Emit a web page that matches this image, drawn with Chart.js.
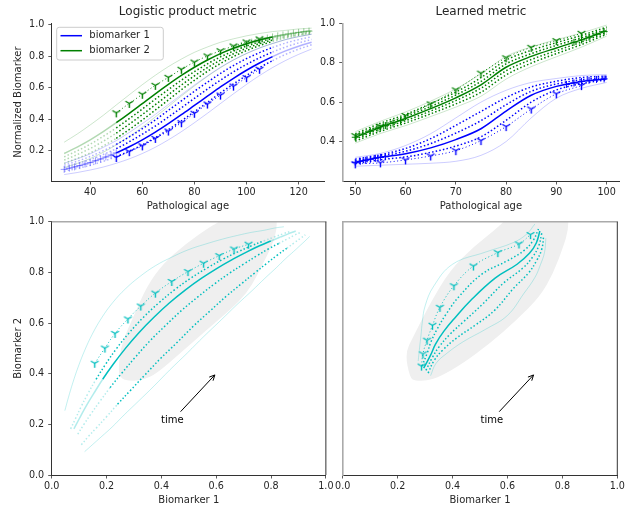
<!DOCTYPE html>
<html><head><meta charset="utf-8">
<script src="https://cdn.jsdelivr.net/npm/chart.js@4/dist/chart.umd.min.js"></script>
<style>
html,body{margin:0;padding:0;background:#fff;width:641px;height:510px;overflow:hidden;position:relative}
canvas{position:absolute}
</style>
</head><body>
<canvas id="tl" width="330" height="215" style="left:0;top:0"></canvas>
<canvas id="tr" width="341" height="215" style="left:300px;top:0"></canvas>
<canvas id="bl" width="336" height="300" style="left:0;top:210px"></canvas>
<canvas id="br" width="311" height="300" style="left:330px;top:210px"></canvas>
<script>
// ---------------- DATA ----------------
// Top-left panel: logistic product metric (pathological age vs normalized biomarker)
const tlAge   = [30,35,40,45,50,55,60,65,70,75,80,85,90,95,100,105,110,115,120,125];
const tlObsRange = [50, 110];
const tlB1Mean = [0.081,0.101,0.124,0.153,0.186,0.225,0.269,0.318,0.372,0.429,0.488,0.547,0.606,0.661,0.712,0.758,0.799,0.835,0.865,0.890];
const tlB1Up2  = [0.108,0.133,0.163,0.200,0.240,0.288,0.340,0.396,0.457,0.517,0.578,0.636,0.692,0.742,0.786,0.824,0.857,0.885,0.907,0.925];
const tlB1Up1  = [0.095,0.117,0.143,0.176,0.213,0.257,0.305,0.357,0.414,0.473,0.533,0.592,0.649,0.702,0.749,0.791,0.828,0.860,0.886,0.908];
const tlB1Lo1  = [0.069,0.087,0.107,0.132,0.162,0.197,0.237,0.283,0.334,0.390,0.448,0.507,0.568,0.625,0.679,0.729,0.773,0.813,0.846,0.874];
const tlB1Hi   = [0.120,0.148,0.180,0.221,0.264,0.316,0.372,0.431,0.494,0.556,0.618,0.676,0.731,0.778,0.819,0.853,0.882,0.907,0.926,0.941];
const tlB1Lo   = [0.048,0.061,0.077,0.096,0.120,0.148,0.182,0.222,0.269,0.321,0.378,0.438,0.500,0.562,0.622,0.678,0.729,0.774,0.813,0.847];
const tlB2Mean = [0.182,0.223,0.269,0.321,0.378,0.438,0.500,0.562,0.622,0.679,0.731,0.777,0.818,0.852,0.881,0.905,0.924,0.940,0.953,0.963];
const tlB2Lo1  = [0.161,0.199,0.241,0.291,0.345,0.404,0.465,0.528,0.589,0.649,0.703,0.753,0.797,0.834,0.866,0.893,0.914,0.932,0.947,0.958];
const tlB2Lo2  = [0.140,0.175,0.214,0.260,0.312,0.369,0.430,0.493,0.556,0.618,0.676,0.729,0.776,0.817,0.852,0.881,0.904,0.925,0.940,0.953];
const tlB2Lo3  = [0.119,0.151,0.186,0.230,0.279,0.335,0.395,0.459,0.523,0.588,0.648,0.705,0.755,0.799,0.837,0.869,0.895,0.917,0.934,0.948];
const tlB2Hi   = [0.254,0.306,0.364,0.425,0.491,0.556,0.620,0.680,0.735,0.783,0.826,0.860,0.890,0.912,0.931,0.946,0.958,0.966,0.975,0.980];
const tlB2Lo   = [0.092,0.119,0.150,0.190,0.237,0.291,0.350,0.415,0.481,0.548,0.612,0.673,0.728,0.777,0.818,0.854,0.882,0.907,0.926,0.942];
const tlMkAge  = [50,55,60,65,70,75,80,85,90,95,100,105];
const tlB1Mk   = [0.157,0.194,0.231,0.278,0.325,0.378,0.438,0.497,0.554,0.611,0.665,0.718];
const tlB2Mk   = [0.441,0.501,0.559,0.616,0.667,0.718,0.764,0.803,0.836,0.866,0.892,0.911];
const tlB1PlusAge = [30,32,34,36,38,40,42,44,46,48,50];
const tlB1Plus    = [0.081,0.089,0.097,0.105,0.115,0.124,0.136,0.147,0.160,0.173,0.186];
const tlB2PlusAge = [96,98,100,102,104,106,108,110,112,114,116,118,120,122,124];
const tlB2Plus    = [0.858,0.870,0.881,0.891,0.900,0.909,0.917,0.924,0.931,0.937,0.943,0.948,0.953,0.957,0.961];

// Top-right panel: learned metric
const trAge    = [50,55,60,65,70,75,80,85,90,95,100];
const trB1Mean = [0.295,0.320,0.338,0.368,0.410,0.465,0.555,0.635,0.680,0.705,0.718];
const trB1Hi2  = [0.311,0.333,0.365,0.415,0.482,0.553,0.623,0.677,0.706,0.725,0.732];
const trB1Hi1  = [0.303,0.326,0.351,0.390,0.443,0.506,0.587,0.655,0.692,0.714,0.725];
const trB1Lo1  = [0.289,0.308,0.322,0.345,0.377,0.424,0.508,0.600,0.662,0.694,0.713];
const trB1Hi   = [0.320,0.340,0.380,0.440,0.520,0.600,0.660,0.700,0.720,0.735,0.740];
const trB1Lo   = [0.275,0.280,0.285,0.290,0.300,0.330,0.400,0.520,0.620,0.670,0.700];
const trB2Mean = [0.422,0.473,0.517,0.567,0.622,0.688,0.777,0.832,0.875,0.916,0.963];
const trB2Hi2  = [0.440,0.493,0.538,0.592,0.651,0.724,0.813,0.863,0.902,0.939,0.981];
const trB2Hi1  = [0.430,0.482,0.527,0.578,0.636,0.705,0.794,0.846,0.888,0.927,0.971];
const trB2Lo1  = [0.413,0.463,0.506,0.555,0.608,0.671,0.759,0.816,0.861,0.905,0.955];
const trB2Lo2  = [0.402,0.452,0.494,0.541,0.591,0.650,0.738,0.798,0.846,0.892,0.945];
const trB2Hi   = [0.450,0.503,0.550,0.605,0.667,0.743,0.832,0.880,0.917,0.951,0.991];
const trB2Lo   = [0.392,0.441,0.481,0.527,0.575,0.630,0.717,0.780,0.830,0.879,0.935];
const trMkAge  = [50,55,60,65,70,75,80,85,90,95];
const trB1Mk   = [0.287,0.292,0.307,0.327,0.354,0.405,0.476,0.565,0.642,0.684];
const trB2Mk   = [0.430,0.478,0.532,0.591,0.662,0.747,0.825,0.878,0.912,0.949];
const trB1PlusAge = [50,51,52,53,54,55,56,92,93.5,95,96.5,98,99.5];
const trB1Plus    = [0.295,0.300,0.305,0.310,0.315,0.320,0.323,0.690,0.697,0.705,0.711,0.715,0.718];
const trB2PlusAge = [50,51.5,53,54.5,56,57.5,59,93.5,95,96.5,98,99.5];
const trB2Plus    = [0.422,0.438,0.453,0.468,0.481,0.494,0.506,0.904,0.916,0.930,0.945,0.958];

// Bottom panels: population density (grey region) in biomarker space
const blBlobX = [0.249,0.243,0.255,0.298,0.346,0.407,0.492,0.577,0.614,0.650,0.820,0.822,0.802,0.771,0.747,0.711,0.650,0.565,0.468,0.383,0.334,0.285];
const blBlobY = [0.382,0.428,0.520,0.625,0.743,0.836,0.915,0.980,1.000,1.050,1.050,0.967,0.901,0.836,0.783,0.717,0.651,0.572,0.480,0.401,0.375,0.371];
const brBlobX = [0.245,0.227,0.257,0.318,0.391,0.476,0.585,0.620,0.822,0.822,0.803,0.767,0.718,0.634,0.536,0.439,0.354,0.306,0.264];
const brBlobY = [0.382,0.480,0.546,0.678,0.809,0.901,0.994,1.050,1.050,0.967,0.901,0.796,0.704,0.612,0.520,0.441,0.388,0.372,0.372];

// Annotations ("time" arrows), in data coordinates
const blArrowHead = [0.595,0.395], blArrowTail = [0.47,0.25], blArrowText = [0.44,0.214];
const brArrowHead = [0.695,0.395], brArrowTail = [0.57,0.25], brArrowText = [0.543,0.214];
const arrowLabel = 'time';

// Ticks and texts
const tlXTicks = [40,60,80,100,120];
const tlYTicks = [0.2,0.4,0.6,0.8,1.0];
const trXTicks = [50,60,70,80,90,100];
const trYTicks = [0.4,0.6,0.8,1.0];
const botTicks = [0,0.2,0.4,0.6,0.8,1.0];
const panelTitles = ['Logistic product metric','Learned metric'];
const legendLabels = ['biomarker 1','biomarker 2'];
const axisTitles = {age:'Pathological age', norm:'Normalized Biomarker', b1:'Biomarker 1', b2:'Biomarker 2'};

// ---------------- STYLE / HELPERS ----------------
const FONT = 'DejaVu Sans';
const TXT = '#262626';
const BLUE = '#0000ff', GREEN = '#008000', CYAN = '#00bfbf';
function rgba(hex, a){const r=parseInt(hex.slice(1,3),16),g=parseInt(hex.slice(3,5),16),b=parseInt(hex.slice(5,7),16);return `rgba(${r},${g},${b},${a})`;}
function triMarker(color){
  const c=document.createElement('canvas');c.width=c.height=11;
  const g=c.getContext('2d');g.strokeStyle=color;g.lineWidth=1.4;
  const cx=5.5,cy=5.5,r=4.5;
  g.beginPath();
  g.moveTo(cx,cy);g.lineTo(cx,cy+r);
  g.moveTo(cx,cy);g.lineTo(cx-r*0.866,cy-r*0.5);
  g.moveTo(cx,cy);g.lineTo(cx+r*0.866,cy-r*0.5);
  g.stroke();return c;
}
const triB=triMarker(BLUE), triG=triMarker(GREEN), triC=triMarker(CYAN);
const pts=(xs,ys)=>xs.map((x,i)=>({x,y:ys[i]}));
function curve(xs,ys,o){return Object.assign({data:pts(xs,ys),pointRadius:0,borderWidth:1.5,fill:false,cubicInterpolationMode:'monotone'},o);}
function pcurve(xs,ys,o){return Object.assign({data:pts(xs,ys),pointRadius:0,borderWidth:1.5,fill:false,tension:0.4},o);}
const DOT=[1.5,2.2];
const segAge=(dark,lt)=>({borderColor:c=>(c.p0.parsed.x>=tlObsRange[0]-1e-9&&c.p1.parsed.x<=tlObsRange[1]+1e-9)?dark:lt});
const i0=tlAge.indexOf(tlObsRange[0]), i1=tlAge.indexOf(tlObsRange[1]);
const segIdx=(dark,lt)=>({borderColor:c=>(c.p0DataIndex>=i0&&c.p1DataIndex<=i1)?dark:lt});

function axes(o){
  const tickFont={family:FONT,size:9.6};
  const grid={display:true,drawOnChartArea:false,drawTicks:true,tickLength:3.5,tickWidth:0.8,tickColor:'#333'};
  return {
    x:{type:'linear',min:o.xmin,max:o.xmax,
      afterBuildTicks:s=>{s.ticks=o.xt.map(v=>({value:v}));},
      afterFit:s=>{s.height=o.xh;},
      ticks:{color:TXT,font:tickFont,padding:2.5,maxRotation:0,autoSkip:false,callback:o.xfmt},
      grid:grid,border:{display:true,color:'#333',width:1},
      title:{display:true,text:o.xTitle,color:TXT,font:{family:FONT,size:10},padding:{top:0,bottom:o.xpb}}},
    y:{type:'linear',min:o.ymin,max:o.ymax,
      afterBuildTicks:s=>{s.ticks=o.yt.map(v=>({value:v}));},
      afterFit:s=>{s.width=o.yw;},
      ticks:{display:o.yShow!==false,color:TXT,font:tickFont,padding:4,autoSkip:false,callback:v=>v.toFixed(1)},
      grid:Object.assign({},grid,{drawTicks:o.yShow!==false}),
      border:{display:true,color:o.yBorder||'#333',width:o.yBorder?1.6:1},
      title:{display:!!o.yTitle,text:o.yTitle||'',color:TXT,font:{family:FONT,size:10},padding:{top:12.3,bottom:0}}}
  };
}

const decor={
  id:'decor',
  beforeDatasetsDraw(chart,args,opts){
    if(!opts.blobX)return;
    const {ctx,chartArea:a,scales:{x,y}}=chart;
    const P=opts.blobX.map((v,i)=>[x.getPixelForValue(v),y.getPixelForValue(opts.blobY[i])]);
    const n=P.length,mid=(p,q)=>[(p[0]+q[0])/2,(p[1]+q[1])/2];
    ctx.save();ctx.beginPath();ctx.rect(a.left,a.top,a.right-a.left,a.bottom-a.top);ctx.clip();
    ctx.beginPath();const m0=mid(P[n-1],P[0]);ctx.moveTo(m0[0],m0[1]);
    for(let i=0;i<n;i++){const p=P[i],q=P[(i+1)%n],m=mid(p,q);ctx.quadraticCurveTo(p[0],p[1],m[0],m[1]);}
    ctx.closePath();ctx.fillStyle='#efefef';ctx.fill();ctx.restore();
  },
  afterDraw(chart,args,opts){
    const {ctx,chartArea:a,scales:{x,y}}=chart;
    ctx.save();
    if(opts.title){
      ctx.font=`12px ${FONT}`;ctx.fillStyle=TXT;ctx.textAlign='center';ctx.textBaseline='middle';
      ctx.fillText(opts.title,(a.left+a.right)/2,12.3);
    }
    if(opts.box){
      ctx.lineWidth=1.6;ctx.strokeStyle='#aaaaaa';
      ctx.beginPath();ctx.moveTo(a.left,a.top);ctx.lineTo(a.right+0.5,a.top);ctx.stroke();
      ctx.lineWidth=1;ctx.strokeStyle='#333';
      ctx.beginPath();ctx.moveTo(a.right,a.top);ctx.lineTo(a.right,a.bottom);ctx.stroke();
    }
    if(opts.legend){
      const bx=56.7,by=27.3,bw=106.6,bh=32.7,r=2.5;
      ctx.beginPath();ctx.moveTo(bx+r,by);ctx.lineTo(bx+bw-r,by);ctx.quadraticCurveTo(bx+bw,by,bx+bw,by+r);
      ctx.lineTo(bx+bw,by+bh-r);ctx.quadraticCurveTo(bx+bw,by+bh,bx+bw-r,by+bh);ctx.lineTo(bx+r,by+bh);
      ctx.quadraticCurveTo(bx,by+bh,bx,by+bh-r);ctx.lineTo(bx,by+r);ctx.quadraticCurveTo(bx,by,bx+r,by);ctx.closePath();
      ctx.fillStyle='rgba(255,255,255,0.85)';ctx.fill();ctx.strokeStyle='#cccccc';ctx.lineWidth=1;ctx.stroke();
      opts.legend.forEach((e,i)=>{
        const yy=35.7+i*15;
        ctx.strokeStyle=e.color;ctx.lineWidth=1.5;ctx.beginPath();ctx.moveTo(60.5,yy);ctx.lineTo(82,yy);ctx.stroke();
        ctx.fillStyle=TXT;ctx.font=`10px ${FONT}`;ctx.textAlign='left';ctx.textBaseline='middle';ctx.fillText(e.label,89.3,yy);
      });
    }
    if(opts.arrow){
      const A=opts.arrow;
      const hx=x.getPixelForValue(A.head[0]),hy=y.getPixelForValue(A.head[1]);
      const tx=x.getPixelForValue(A.tail[0]),ty=y.getPixelForValue(A.tail[1]);
      ctx.strokeStyle='#000';ctx.lineWidth=1;
      ctx.beginPath();ctx.moveTo(tx,ty);ctx.lineTo(hx,hy);ctx.stroke();
      const ang=Math.atan2(hy-ty,hx-tx),L=6,W=0.45;
      ctx.beginPath();ctx.moveTo(hx-L*Math.cos(ang-W),hy-L*Math.sin(ang-W));ctx.lineTo(hx,hy);
      ctx.lineTo(hx-L*Math.cos(ang+W),hy-L*Math.sin(ang+W));ctx.stroke();
      ctx.fillStyle='#000';ctx.font=`10px ${FONT}`;ctx.textAlign='center';ctx.textBaseline='middle';
      ctx.fillText(A.label,x.getPixelForValue(A.text[0]),y.getPixelForValue(A.text[1]));
    }
    ctx.restore();
  }
};

Chart.defaults.font.family=FONT;
const base={responsive:false,animation:false,devicePixelRatio:1,events:[],
  plugins:{legend:{display:false},tooltip:{enabled:false}}};
function make(id,datasets,scales,padding,decorOpts){
  return new Chart(document.getElementById(id),{type:'line',data:{datasets},
    options:Object.assign({},base,{layout:{padding},scales,plugins:Object.assign({},base.plugins,{decor:decorOpts})}),
    plugins:[decor]});
}

// ---------------- TOP-LEFT ----------------
const lB=rgba(BLUE,0.3), lG=rgba(GREEN,0.3), fB=rgba(BLUE,0.25), fG=rgba(GREEN,0.25);
make('tl',[
  curve(tlMkAge,tlB1Mk,{borderColor:BLUE,borderWidth:1,borderDash:[1,2.5],pointStyle:triB,pointRadius:5}),
  curve(tlMkAge,tlB2Mk,{borderColor:GREEN,borderWidth:1,borderDash:[1,2.5],pointStyle:triG,pointRadius:5}),
  curve(tlB1PlusAge,tlB1Plus,{showLine:false,pointStyle:'cross',pointRadius:3.5,pointBorderColor:rgba(BLUE,0.4),pointBorderWidth:1}),
  curve(tlB2PlusAge,tlB2Plus,{showLine:false,pointStyle:'cross',pointRadius:3.5,pointBorderColor:rgba(GREEN,0.4),pointBorderWidth:1}),
  curve(tlAge,tlB1Mean,{borderColor:BLUE,segment:segAge(BLUE,lB)}),
  curve(tlAge,tlB2Mean,{borderColor:GREEN,segment:segAge(GREEN,lG)}),
  curve(tlAge,tlB1Up2,{borderColor:BLUE,borderDash:DOT,segment:segAge(BLUE,lB)}),
  curve(tlAge,tlB1Up1,{borderColor:BLUE,borderDash:DOT,segment:segAge(BLUE,lB)}),
  curve(tlAge,tlB1Lo1,{borderColor:BLUE,borderDash:DOT,segment:segAge(BLUE,lB)}),
  curve(tlAge,tlB2Lo1,{borderColor:GREEN,borderDash:DOT,segment:segAge(GREEN,lG)}),
  curve(tlAge,tlB2Lo2,{borderColor:GREEN,borderDash:DOT,segment:segAge(GREEN,lG)}),
  curve(tlAge,tlB2Lo3,{borderColor:GREEN,borderDash:DOT,segment:segAge(GREEN,lG)}),
  curve(tlAge,tlB1Hi,{borderColor:fB,borderWidth:0.8}),
  curve(tlAge,tlB1Lo,{borderColor:fB,borderWidth:0.8}),
  curve(tlAge,tlB2Hi,{borderColor:fG,borderWidth:0.8}),
  curve(tlAge,tlB2Lo,{borderColor:fG,borderWidth:0.8})
], axes({xmin:25.25,xmax:129.75,ymin:0.0071,ymax:1.0108,xt:tlXTicks,yt:tlYTicks,xh:34,yw:51.8,xpb:2.7,
  xfmt:v=>String(v),xTitle:axisTitles.age,yTitle:axisTitles.norm}),
  {left:0,top:23.3,right:2.6,bottom:0},
  {title:panelTitles[0],legend:[{label:legendLabels[0],color:BLUE},{label:legendLabels[1],color:GREEN}]});

// ---------------- TOP-RIGHT ----------------
make('tr',[
  curve(trMkAge,trB1Mk,{borderColor:BLUE,borderWidth:1,borderDash:[1,2.5],pointStyle:triB,pointRadius:5}),
  curve(trMkAge,trB2Mk,{borderColor:GREEN,borderWidth:1,borderDash:[1,2.5],pointStyle:triG,pointRadius:5}),
  curve(trB1PlusAge,trB1Plus,{showLine:false,pointStyle:'cross',pointRadius:3.5,pointBorderColor:BLUE,pointBorderWidth:1}),
  curve(trB2PlusAge,trB2Plus,{showLine:false,pointStyle:'cross',pointRadius:3.5,pointBorderColor:GREEN,pointBorderWidth:1}),
  curve(trAge,trB1Mean,{borderColor:BLUE}),
  curve(trAge,trB2Mean,{borderColor:GREEN}),
  curve(trAge,trB1Hi2,{borderColor:BLUE,borderDash:DOT}),
  curve(trAge,trB1Hi1,{borderColor:BLUE,borderDash:DOT}),
  curve(trAge,trB1Lo1,{borderColor:BLUE,borderDash:DOT}),
  curve(trAge,trB2Hi2,{borderColor:GREEN,borderDash:DOT}),
  curve(trAge,trB2Hi1,{borderColor:GREEN,borderDash:DOT}),
  curve(trAge,trB2Lo1,{borderColor:GREEN,borderDash:DOT}),
  curve(trAge,trB2Lo2,{borderColor:GREEN,borderDash:DOT}),
  curve(trAge,trB1Hi,{borderColor:fB,borderWidth:0.8}),
  curve(trAge,trB1Lo,{borderColor:fB,borderWidth:0.8}),
  curve(trAge,trB2Hi,{borderColor:fG,borderWidth:0.8}),
  curve(trAge,trB2Lo,{borderColor:fG,borderWidth:0.8})
], axes({xmin:47.5,xmax:102.5,ymin:0.2,ymax:1.0,xt:trXTicks,yt:trYTicks,xh:34,yw:42.7,xpb:2.7,
  xfmt:v=>String(v),xTitle:axisTitles.age,yBorder:'#aaaaaa'}),
  {left:0,top:23.3,right:21.8,bottom:0},
  {title:panelTitles[1]});

// ---------------- BOTTOM-LEFT ----------------
const lC=rgba(CYAN,0.3), fC=rgba(CYAN,0.3);
make('bl',[
  pcurve(tlB1Mk,tlB2Mk,{borderColor:CYAN,borderWidth:1,borderDash:[1,2.5],pointStyle:triC,pointRadius:5}),
  pcurve(tlB1Mean,tlB2Mean,{borderColor:CYAN,segment:segIdx(CYAN,lC)}),
  pcurve(tlB1Lo1,tlB2Mean,{borderColor:CYAN,borderDash:DOT,segment:segIdx(CYAN,lC)}),
  pcurve(tlB1Up1,tlB2Lo1,{borderColor:CYAN,borderDash:DOT,segment:segIdx(CYAN,lC)}),
  pcurve(tlB1Up2,tlB2Lo3,{borderColor:CYAN,borderDash:DOT,segment:segIdx(CYAN,lC)}),
  pcurve(tlB1Lo,tlB2Hi,{borderColor:fC,borderWidth:0.8}),
  pcurve(tlB1Hi,tlB2Lo,{borderColor:fC,borderWidth:0.8})
], axes({xmin:0,xmax:1,ymin:0,ymax:1,xt:botTicks,yt:botTicks,xh:35,yw:51.7,xpb:3.7,
  xfmt:v=>v.toFixed(1),xTitle:axisTitles.b1,yTitle:axisTitles.b2}),
  {left:0,top:11.7,right:10,bottom:0},
  {box:true,blobX:blBlobX,blobY:blBlobY,arrow:{head:blArrowHead,tail:blArrowTail,text:blArrowText,label:arrowLabel}});

// ---------------- BOTTOM-RIGHT ----------------
make('br',[
  pcurve(trB1Mk,trB2Mk,{borderColor:CYAN,borderWidth:1,borderDash:[1,2.5],pointStyle:triC,pointRadius:5}),
  pcurve(trB1Mean,trB2Mean,{borderColor:CYAN}),
  pcurve(trB1Lo1,trB2Hi1,{borderColor:CYAN,borderDash:DOT}),
  pcurve(trB1Hi1,trB2Lo1,{borderColor:CYAN,borderDash:DOT}),
  pcurve(trB1Hi2,trB2Lo2,{borderColor:CYAN,borderDash:DOT}),
  pcurve(trB1Lo,trB2Hi,{borderColor:fC,borderWidth:0.8}),
  pcurve(trB1Hi,trB2Lo,{borderColor:fC,borderWidth:0.8})
], axes({xmin:0,xmax:1,ymin:0,ymax:1,xt:botTicks,yt:botTicks,xh:35,yw:12.7,xpb:3.7,
  xfmt:v=>v.toFixed(1),xTitle:axisTitles.b1,yShow:false,yBorder:'#aaaaaa'}),
  {left:0,top:11.7,right:23.7,bottom:0},
  {box:true,blobX:brBlobX,blobY:brBlobY,arrow:{head:brArrowHead,tail:brArrowTail,text:brArrowText,label:arrowLabel}});
</script>
</body></html>
